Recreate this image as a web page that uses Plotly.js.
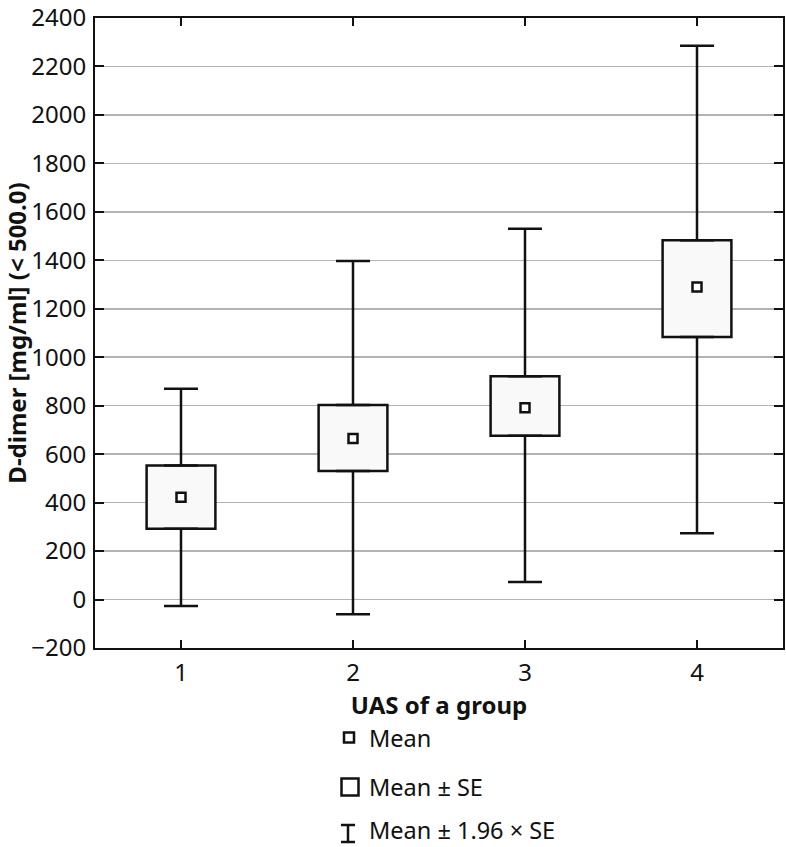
<!DOCTYPE html>
<html>
<head>
<meta charset="utf-8">
<script src="https://cdn.plot.ly/plotly-3.0.1.min.js"></script>
<style>html,body{margin:0;padding:0;background:#fff;}#chart{width:786px;height:847px;}</style>
</head>
<body>
<div id="chart"></div>
<script>
// Data
const groups = [1, 2, 3, 4];
const means = [422, 665, 792, 1290];
const seLow = [292, 530, 676, 1083];      // Mean - SE
const seHigh = [553, 803, 922, 1483];     // Mean + SE
const ciLow = [-27, -61, 72, 274];        // Mean - 1.96 x SE
const ciHigh = [870, 1397, 1530, 2285];   // Mean + 1.96 x SE
const yTicks = [-200, 0, 200, 400, 600, 800, 1000, 1200, 1400, 1600, 1800, 2000, 2200, 2400];
const yTickText = ['\u2212200', '0', '200', '400', '600', '800', '1000', '1200', '1400', '1600', '1800', '2000', '2200', '2400'];
const legendLabels = ['Mean', 'Mean \u00b1 SE', 'Mean \u00b1 1.96 \u00d7 SE'];

const FONT = 'Noto Sans, Open Sans, sans-serif';
const W = 786, H = 847;
const M = {l: 95, r: 3, t: 18, b: 199};
const pw = W - M.l - M.r, ph = H - M.t - M.b;
const px = x => (x - M.l) / pw;
const py = y => (H - M.b - y) / ph;

const traces = [
  {
    type: 'bar', x: groups, base: seLow,
    y: seHigh.map((v, i) => v - seLow[i]),
    width: 0.4,
    marker: {color: '#f9f9f9', line: {color: '#111', width: 2.5}},
    hoverinfo: 'skip', showlegend: false
  },
  {
    type: 'scatter', mode: 'markers', x: groups, y: seHigh,
    marker: {size: 1, color: 'rgba(0,0,0,0)'},
    error_y: {type: 'data', symmetric: false,
      array: ciHigh.map((v, i) => v - seHigh[i]),
      arrayminus: seHigh.map(() => 0),
      color: '#111', thickness: 2.5, width: 17},
    hoverinfo: 'skip', showlegend: false
  },
  {
    type: 'scatter', mode: 'markers', x: groups, y: seLow,
    marker: {size: 1, color: 'rgba(0,0,0,0)'},
    error_y: {type: 'data', symmetric: false,
      array: seLow.map(() => 0),
      arrayminus: seLow.map((v, i) => v - ciLow[i]),
      color: '#111', thickness: 2.5, width: 17},
    hoverinfo: 'skip', showlegend: false
  },
  {
    type: 'scatter', mode: 'markers', x: groups, y: means,
    marker: {symbol: 'square', size: 9, color: '#fff', line: {color: '#111', width: 2.5}},
    showlegend: false
  }
];

// Legend drawn below the plot
const shapes = [
  {type: 'rect', xref: 'paper', yref: 'paper', x0: px(344), x1: px(354), y0: py(742.5), y1: py(732.5), line: {color: '#111', width: 2.5}, fillcolor: '#fff'},
  {type: 'rect', xref: 'paper', yref: 'paper', x0: px(341.5), x1: px(358.5), y0: py(795.5), y1: py(778.5), line: {color: '#111', width: 2.5}, fillcolor: '#fff'},
  {type: 'line', xref: 'paper', yref: 'paper', x0: px(348), x1: px(348), y0: py(825), y1: py(842), line: {color: '#111', width: 2.5}},
  {type: 'line', xref: 'paper', yref: 'paper', x0: px(341), x1: px(355), y0: py(825), y1: py(825), line: {color: '#111', width: 2.5}},
  {type: 'line', xref: 'paper', yref: 'paper', x0: px(341), x1: px(355), y0: py(842), y1: py(842), line: {color: '#111', width: 2.5}}
];
const legendY = [738, 787, 830];
const annotations = legendLabels.map((t, i) => ({
  text: t, xref: 'paper', yref: 'paper', x: px(367), y: py(legendY[i]),
  xanchor: 'left', yanchor: 'middle', showarrow: false,
  font: {family: FONT, size: 23.5, color: '#111'}
}));

const layout = {
  width: W, height: H,
  margin: M,
  paper_bgcolor: '#fff', plot_bgcolor: '#fff',
  font: {family: FONT, color: '#111'},
  showlegend: false,
  bargap: 0,
  xaxis: {
    range: [0.5, 4.5], tickvals: groups, ticktext: groups.map(String),
    ticks: 'inside', ticklen: 8, tickwidth: 2, tickcolor: '#111',
    showline: true, linecolor: '#111', linewidth: 2, mirror: 'ticks',
    showgrid: false, zeroline: false,
    tickfont: {family: FONT, size: 24, color: '#111'},
    ticklabelstandoff: 2,
    title: {text: '<b>UAS of a group</b>', font: {family: FONT, size: 24, color: '#111'}, standoff: 9}
  },
  yaxis: {
    range: [-200, 2400], tickvals: yTicks, ticktext: yTickText,
    ticks: 'inside', ticklen: 9, tickwidth: 2, tickcolor: '#111',
    showline: true, linecolor: '#111', linewidth: 2, mirror: 'ticks',
    showgrid: true, gridcolor: '#b3b3b3', gridwidth: 1.6, zeroline: false,
    tickfont: {family: FONT, size: 24, color: '#111'},
    ticklabelstandoff: 2, ticklabeloverflow: 'allow',
    title: {text: '<b>D-dimer [mg/ml] (< 500.0)</b>', font: {family: FONT, size: 24, color: '#111'}, standoff: 0}
  },
  shapes: shapes,
  annotations: annotations
};

Plotly.newPlot('chart', traces, layout, {displayModeBar: false, staticPlot: true});
</script>
</body>
</html>
